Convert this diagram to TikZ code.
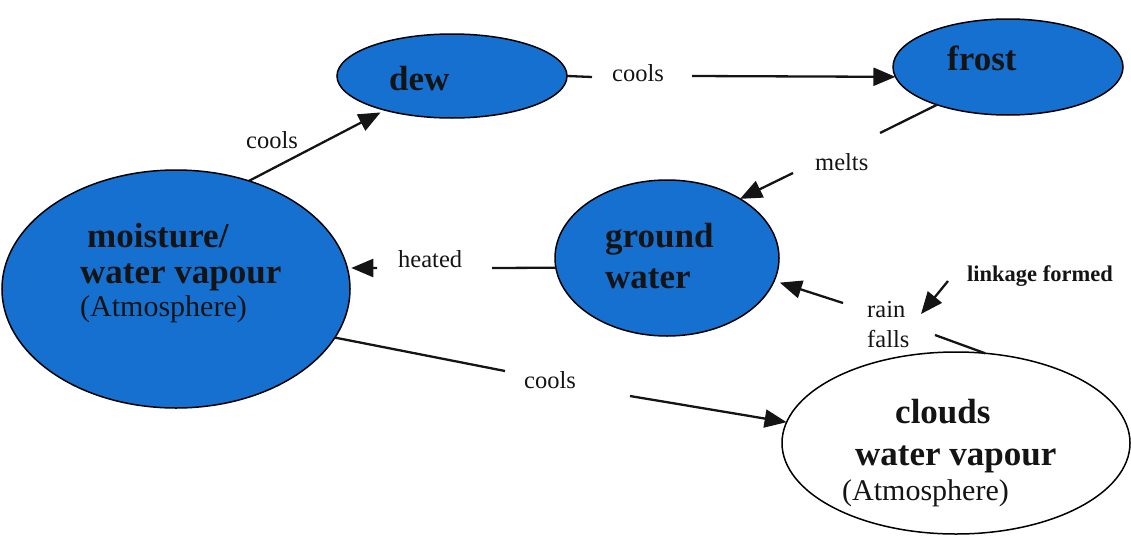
\documentclass[tikz,border=0pt]{standalone}
\usepackage{fontspec}
\setmainfont{Liberation Serif}
\usetikzlibrary{arrows.meta,shapes.geometric}
\definecolor{ellblue}{RGB}{22,112,208}
\definecolor{inkc}{RGB}{20,20,20}
\begin{document}
\begin{tikzpicture}[x=1pt,y=-1pt,
 bubble/.style={ellipse, draw=black, line width=1.5pt, fill=ellblue, inner sep=0pt, outer sep=0pt},
 whitebubble/.style={bubble, fill=white},
 big/.style={anchor=base west, inner sep=0pt, text=inkc, font=\fontsize{35}{40}\selectfont\bfseries},
 atm/.style={anchor=base west, inner sep=0pt, text=inkc, font=\fontsize{30}{36}\selectfont},
 lbl/.style={anchor=base west, inner sep=0pt, text=inkc, font=\fontsize{24.5}{28}\selectfont},
 note/.style={anchor=base west, inner sep=0pt, text=inkc, font=\fontsize{22.5}{26}\selectfont\bfseries},
 conn/.style={line width=2.3pt, draw=inkc},
 arr/.style={conn, -{Triangle[length=22pt,width=18pt]}},
]
\useasboundingbox (0,0) rectangle (1131,538);

% ellipses
\node[bubble, minimum width=348pt, minimum height=238pt] (moist) at (176,289) {};
\node[bubble, minimum width=230pt, minimum height=84pt] (dew) at (452,76) {};
\node[bubble, minimum width=230pt, minimum height=96pt] (frost) at (1008,67) {};
\node[bubble, minimum width=224pt, minimum height=156pt] (ground) at (667,258) {};
\node[whitebubble, minimum width=348pt, minimum height=182pt] (clouds) at (956,443) {};

% texts inside ellipses
\node[big] (tm1) at (87,247) {moisture/};
\node[big] (tm2) at (80,283) {water vapour};
\node[atm] (tm3) at (80,316) {(Atmosphere)};
\node[big] (td) at (389,90) {dew};
\node[big] (tf) at (947,70) {frost};
\node[big] (tg1) at (605,247) {ground};
\node[big] (tg2) at (605,288) {water};
\node[big] (tc1) at (895,423) {clouds};
\node[big] (tc2) at (855,465) {water vapour};
\node[atm] (tc3) at (842,500) {(Atmosphere)};

% connector labels
\node[lbl] (l1) at (246,148) {cools};
\node[lbl] (l2) at (612,81) {cools};
\node[lbl] (l3) at (815,170) {melts};
\node[lbl] (l4) at (398,267) {heated};
\node[lbl] (l5a) at (867,317) {rain};
\node[lbl] (l5b) at (867,347) {falls};
\node[lbl] (l6) at (524,388) {cools};
\node[note] (lk) at (967,281) {linkage formed};

% break points of connectors
\coordinate (c2a) at (592,77);
\coordinate (c2b) at (692,76);
\coordinate (m1) at (880,133);
\coordinate (m2) at (793,173);
\coordinate (h1) at (492,268);
\coordinate (h2) at (377,268);
\coordinate (r1) at (935,335);
\coordinate (r2) at (843,303);
\coordinate (b1) at (505,371);
\coordinate (b2) at (630,396);
\coordinate (k1) at (948,281);
\coordinate (k2) at (921,314);

% connectors
\draw[arr, shorten >=5pt] (moist.56) -- (dew.207);
\draw[conn] (dew.east) -- (c2a);
\draw[arr] (c2b) -- (frost.185);
\draw[conn] (frost.208) -- (m1);
\draw[arr] (m2) -- (ground.39);
\draw[conn] (ground.185) -- (h1);
\draw[arr, shorten >=4pt] (h2) -- (moist.7);
\draw[conn] (clouds.72) -- (r1);
\draw[arr, shorten >=6pt] (r2) -- (ground.348);
\draw[arr] (k1) -- (k2);
\draw[conn] (moist.343) -- (b1);
\draw[arr] (b2) -- (clouds.173);
\end{tikzpicture}
\end{document}
